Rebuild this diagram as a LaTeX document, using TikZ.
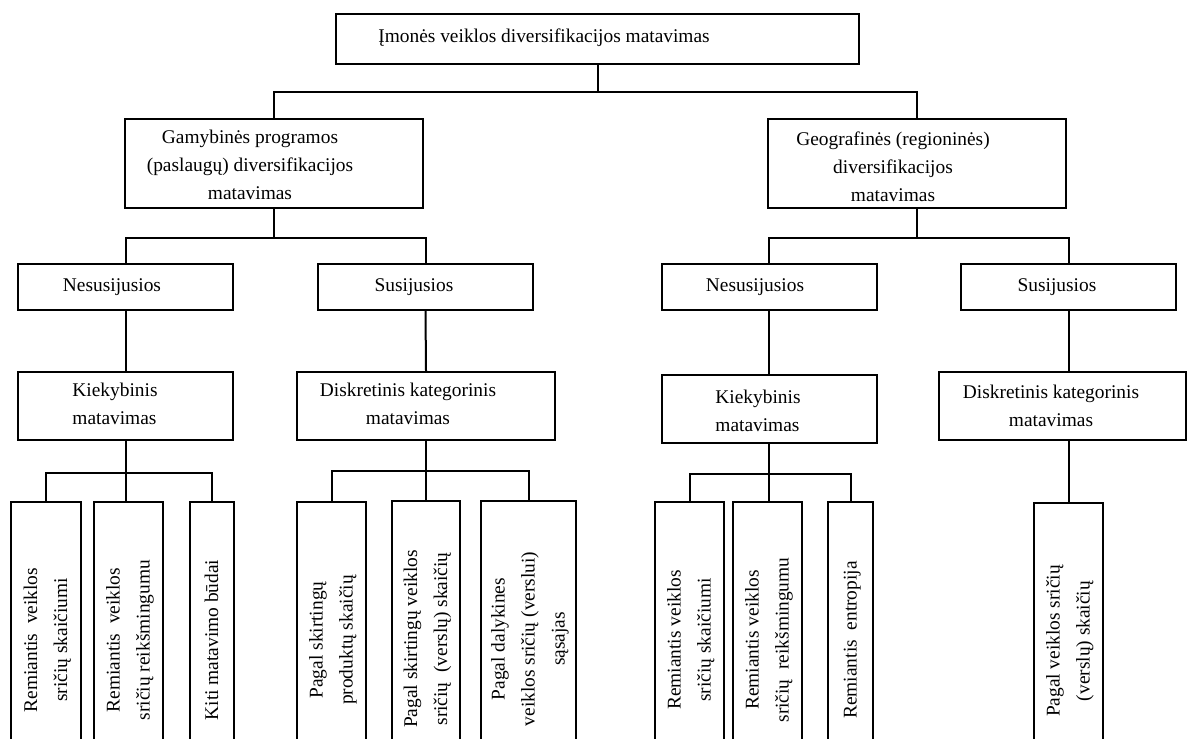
\documentclass[tikz,border=0pt]{standalone}
\usepackage{fontspec}
\setmainfont{Liberation Serif}
\usepackage{tikz}
\newcommand{\vtext}[1]{\rotatebox{90}{\begin{tabular}{@{}c@{}}#1\end{tabular}}}

\begin{document}
\begin{tikzpicture}[x=0.5pt,y=-0.5pt,line width=1pt]
        \tikzstyle{every node}+=[inner sep=0pt, font=\fontsize{9.7pt}{14pt}\selectfont]
        \tikzstyle{box}=[draw=black, line width=1pt]
        \tikzstyle{leaf}=[box, minimum height=138pt, font=\fontsize{9.7pt}{15pt}\selectfont]
        \tikzstyle{txt}=[align=center]
        \useasboundingbox (0,0) rectangle (1187,738);
        \node[box, minimum width=261.5pt, minimum height=25pt] (top) at (597.5,39) {};
        \node[txt] (toptxt) at (544,38) {Įmonės veiklos diversifikacijos matavimas};
        \node[box, minimum width=149pt, minimum height=44.5pt] (gam) at (274,163.5) {};
        \node[txt] (gamtxt) at (250,165) {Gamybinės programos\\(paslaugų) diversifikacijos\\matavimas};
        \node[box, minimum width=149pt, minimum height=44.5pt] (geo) at (917,163.5) {};
        \node[txt] (geotxt) at (893,167) {Geografinės (regioninės)\\diversifikacijos\\matavimas};
        \node[box, minimum width=107.5pt, minimum height=23pt] (nes1) at (125.5,287) {};
        \node[txt] (nes1txt) at (112,287) {Nesusijusios};
        \node[box, minimum width=107.5pt, minimum height=23pt] (sus1) at (425.5,287) {};
        \node[txt] (sus1txt) at (414,287) {Susijusios};
        \node[box, minimum width=107.5pt, minimum height=23pt] (nes2) at (769,287) {};
        \node[txt] (nes2txt) at (755,287) {Nesusijusios};
        \node[box, minimum width=107.5pt, minimum height=23pt] (sus2) at (1068.5,287) {};
        \node[txt] (sus2txt) at (1057,287) {Susijusios};
        \node[box, minimum width=107.5pt, minimum height=34pt] (kiek1) at (125.5,406) {};
        \node[align=left] (kiek1txt) at (115,404) {Kiekybinis\\matavimas};
        \node[box, minimum width=129pt, minimum height=34pt] (disk1) at (426,406) {};
        \node[txt] (disk1txt) at (408,404) {Diskretinis kategorinis\\matavimas};
        \node[box, minimum width=107.5pt, minimum height=34pt] (kiek2) at (769,409) {};
        \node[align=left] (kiek2txt) at (758,411) {Kiekybinis\\matavimas};
        \node[box, minimum width=123.5pt, minimum height=34pt] (disk2) at (1062.5,406) {};
        \node[txt] (disk2txt) at (1051,406) {Diskretinis kategorinis\\matavimas};
        \node[leaf, minimum width=35pt] (l1) at (46,640) {\vtext{Remiantis\ \ veiklos\\sričių skaičiumi}};
        \node[leaf, minimum width=34.5pt] (l2) at (128.7,640) {\vtext{Remiantis\ \ veiklos\\sričių reikšmingumu}};
        \node[leaf, minimum width=22pt] (l3) at (212,640) {\vtext{Kiti matavimo būdai}};
        \node[leaf, minimum width=34.5pt] (l4) at (331.5,640) {\vtext{Pagal skirtingų\\produktų skaičių}};
        \node[leaf, minimum width=34pt] (l5) at (426,639) {\vtext{Pagal skirtingų veiklos\\sričių\ \ (verslų) skaičių}};
        \node[leaf, minimum width=47.5pt] (l6) at (528.5,639) {\vtext{Pagal dalykines\\veiklos sričių (verslui)\\sąsajas}};
        \node[leaf, minimum width=34.5pt] (r1) at (689.5,640) {\vtext{Remiantis veiklos\\sričių skaičiumi}};
        \node[leaf, minimum width=34.5pt] (r2) at (767.5,640) {\vtext{Remiantis veiklos\\sričių\ \ reikšmingumu}};
        \node[leaf, minimum width=22.5pt] (r3) at (850.5,640) {\vtext{Remiantis\ \ entropija}};
        \node[leaf, minimum width=34.5pt] (r4) at (1068.5,641) {\vtext{Pagal veiklos sričių\\(verslų) skaičių}};
        \draw (top.south) -- ++(0,27) coordinate (tb);
        \draw (gam.north) |- (tb) -| (geo.north);
        \draw (gam.south) -- ++(0,29) coordinate (gb1);
        \draw (nes1.north) |- (gb1) -| (sus1.north);
        \draw (nes1.south) -- (kiek1.north);
        \draw (sus1.south) -- (disk1.north);
        \draw (kiek1.south) -- ++(0,32) coordinate (kb1);
        \draw (l1.north) |- (kb1) -| (l3.north);
        \draw (kb1) -- (kb1 |- l2.north);
        \draw (disk1.south) -- ++(0,30) coordinate (db1);
        \draw (l4.north) |- (db1) -| (l6.north);
        \draw (db1) -- (l5.north);
        \draw (geo.south) -- ++(0,29) coordinate (gb2);
        \draw (nes2.north) |- (gb2) -| (sus2.north);
        \draw (nes2.south) -- (kiek2.north);
        \draw (sus2.south) -- (sus2.south |- disk2.north);
        \draw (kiek2.south) -- ++(0,30) coordinate (kb2);
        \draw (r1.north) |- (kb2) -| (r3.north);
        \draw (kb2) -- (kb2 |- r2.north);
        \draw (sus2.south |- disk2.south) -- (r4.north);
\end{tikzpicture}
\end{document}
